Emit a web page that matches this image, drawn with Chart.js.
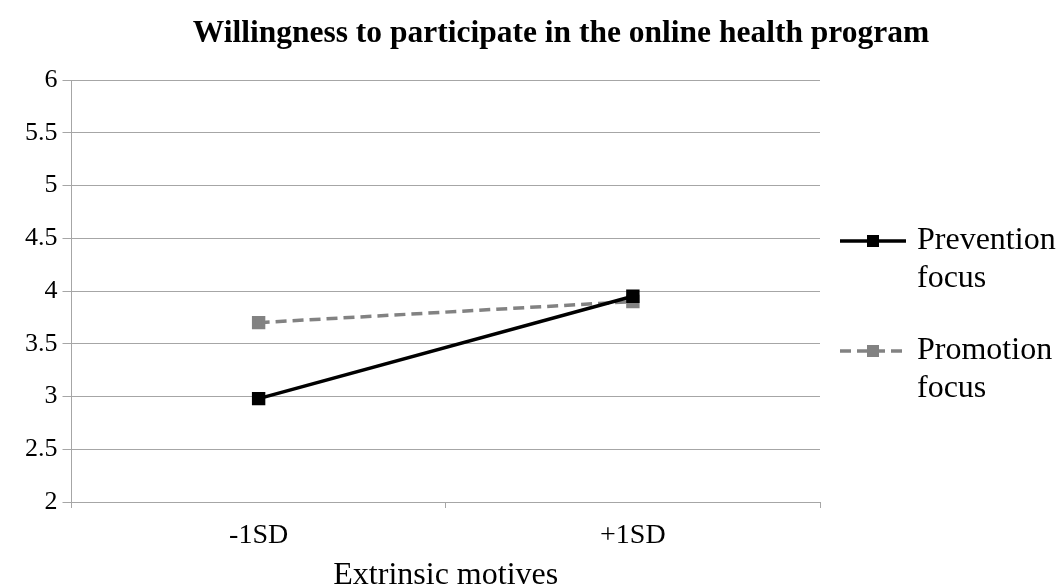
<!DOCTYPE html>
<html>
<head>
<meta charset="utf-8">
<script src="https://cdn.jsdelivr.net/npm/chart.js@4.4.1/dist/chart.umd.min.js"></script>
<style>
    html, body { margin: 0; padding: 0; background: #fff; }
    #wrap { width: 1059px; height: 588px; }
</style>
</head>
<body>
<div id="wrap"><canvas id="chart" width="1059" height="588"></canvas></div>
<script>
const categories = ['-1SD', '+1SD'];
const preventionValues = [2.98, 3.95];
const promotionValues = [3.70, 3.90];
const legendLabels = [['Prevention', 'focus'], ['Promotion', 'focus']];
const chartTitle = 'Willingness to participate in the online health program';
const xTitle = 'Extrinsic motives';

const FONT = "'Liberation Serif', 'Times New Roman', serif";
const GRID = '#a6a6a6';

function drawText(ctx, text, x, y, font, align) {
    ctx.save();
    ctx.font = font;
    ctx.textAlign = align;
    ctx.textBaseline = 'middle';
    ctx.fillStyle = '#000';
    ctx.fillText(text, x, y);
    ctx.restore();
}

// title + legend drawn by hand so they sit where the original has them
const extrasPlugin = {
    id: 'extras',
    afterDraw(chart) {
        const ctx = chart.ctx;
        drawText(ctx, chartTitle, 561, 34, "bold 31.5px " + FONT, 'center');

        const rows = [241, 351];
        chart.data.datasets.forEach((ds, i) => {
            const y = rows[i];
            ctx.save();
            ctx.strokeStyle = ds.borderColor;
            ctx.lineWidth = ds.borderWidth;
            ctx.setLineDash(ds.borderDash || []);
            ctx.beginPath();
            ctx.moveTo(840, y);
            ctx.lineTo(906, y);
            ctx.stroke();
            ctx.setLineDash([]);
            ctx.fillStyle = ds.pointBackgroundColor;
            ctx.fillRect(867, y - 6, 12, 12);
            ctx.restore();

            legendLabels[i].forEach((t, j) => drawText(ctx, t, 917, y + j * 38, "32px " + FONT, 'left'));
        });
    }
};

const ctx = document.getElementById('chart').getContext('2d');
new Chart(ctx, {
    type: 'line',
    data: {
        labels: categories,
        datasets: [{
            label: 'Prevention focus',
            data: preventionValues,
            borderColor: '#000000',
            backgroundColor: '#000000',
            pointBackgroundColor: '#000000',
            pointBorderColor: '#000000',
            borderWidth: 3.5,
            pointStyle: 'rect',
            pointRadius: 7,
            tension: 0
        }, {
            label: 'Promotion focus',
            data: promotionValues,
            borderColor: '#828282',
            backgroundColor: '#828282',
            pointBackgroundColor: '#828282',
            pointBorderColor: '#828282',
            borderWidth: 3.5,
            borderDash: [11, 6],
            pointStyle: 'rect',
            pointRadius: 7,
            tension: 0
        }]
    },
    options: {
        responsive: false,
        animation: false,
        layout: {
            padding: { top: 80, right: 239, left: 20, bottom: 0 }
        },
        plugins: {
            legend: { display: false },
            title: { display: false },
            tooltip: { enabled: false }
        },
        scales: {
            x: {
                offset: true,
                grid: {
                    offset: true,
                    drawOnChartArea: false,
                    color: GRID,
                    tickLength: 6
                },
                border: { color: GRID },
                ticks: {
                    color: '#000',
                    font: { family: FONT, size: 28, lineHeight: 1 },
                    padding: 14
                },
                title: {
                    display: true,
                    text: xTitle,
                    color: '#000',
                    font: { family: FONT, size: 32, lineHeight: 0.75 },
                    padding: { top: 0, bottom: 0 }
                }
            },
            y: {
                min: 2,
                max: 6,
                ticks: {
                    stepSize: 0.5,
                    color: '#000',
                    font: { family: FONT, size: 26 },
                    padding: 5,
                    callback: (value) => String(value)
                },
                grid: {
                    color: GRID,
                    tickLength: 9
                },
                border: { color: GRID }
            }
        }
    },
    plugins: [extrasPlugin]
});
</script>
</body>
</html>
